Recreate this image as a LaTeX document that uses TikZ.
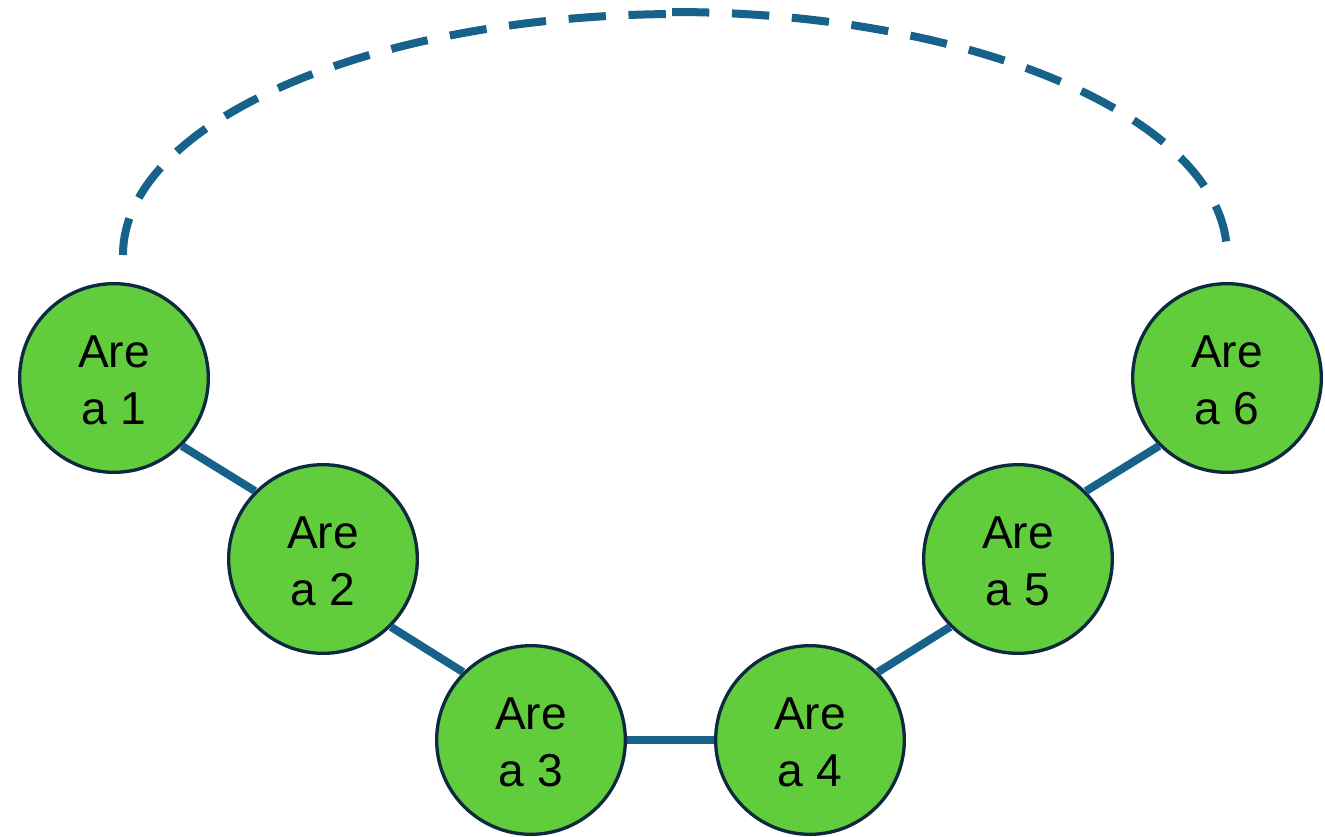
\documentclass[tikz,border=0pt]{standalone}
\usepackage{fontspec}
\setmainfont{Liberation Sans}
\definecolor{areagreen}{HTML}{62CD3C}
\definecolor{areaborder}{HTML}{0D2A40}
\definecolor{linkblue}{HTML}{17628A}
\newcommand{\areatext}[1]{\rule{0pt}{28pt}Are\\a #1}
\tikzset{
  area/.style={circle, draw=areaborder, line width=2.5pt, fill=areagreen, minimum size=141.5pt, inner sep=0pt, align=center, text=black, font=\fontsize{34.6}{42.75}\selectfont},
  link/.style={draw=linkblue, line width=6pt},
  dashlink/.style={draw=linkblue, line width=6pt, dash pattern=on 28pt off 17pt}
}
\begin{document}
\begin{tikzpicture}[x=0.75pt, y=-0.75pt]
\useasboundingbox (0,0) rectangle (1325,836);
\node[area] (a1) at (114,378) {\areatext{1}};
\node[area] (a2) at (323,559) {\areatext{2}};
\node[area] (a3) at (531,740) {\areatext{3}};
\node[area] (a4) at (810,740) {\areatext{4}};
\node[area] (a5) at (1018,559) {\areatext{5}};
\node[area] (a6) at (1227,378) {\areatext{6}};
\draw[link] (a1.south east) -- (a2.north west);
\draw[link] (a2.south east) -- (a3.north west);
\draw[link] (a3) -- (a4);
\draw[link] (a4.north east) -- (a5.south west);
\draw[link] (a5.north east) -- (a6.south west);
\coordinate (l1) at (123,255);
\coordinate (topl) at (680,14);
\coordinate (topr) at (672,12);
\coordinate (r1) at (1227,255);
\draw[dashlink] (l1) .. controls (123,122) and (373,14) .. (topl);
\draw[dashlink] (topr) .. controls (978,12) and (1227,121) .. (r1);
\end{tikzpicture}
\end{document}
